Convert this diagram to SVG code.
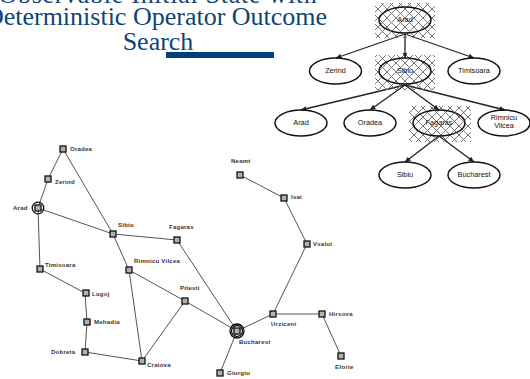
<svg xmlns="http://www.w3.org/2000/svg" width="530" height="379" viewBox="0 0 530 379">
<style>
.title{font:26px "Liberation Serif",serif;fill:#0f4477;text-anchor:middle}
.m{font:bold 6px "Liberation Sans",Arial,sans-serif;fill:#333;letter-spacing:.25px}
.t{font:7.300px "Liberation Sans",Arial,sans-serif;fill:#111;text-anchor:middle}
.ro{fill:none;stroke:#555;stroke-width:1}
.city{fill:#b0b0b0;stroke:#111;stroke-width:1.300}
.ring{fill:none;stroke:#111;stroke-width:1.300}
.e{fill:none;stroke:#111;stroke-width:1.500}
.a{stroke:#222;stroke-width:1.300;fill:none;marker-end:url(#ah)}
</style>
<defs>
<marker id="ah" markerWidth="6" markerHeight="5" refX="5.500" refY="2.500" orient="auto" markerUnits="userSpaceOnUse"><path d="M0 0L6 2.500L0 5z" fill="#222"/></marker>
<pattern id="h" width="9" height="9" patternUnits="userSpaceOnUse"><path d="M0 0L9 9M9 0L0 9" stroke="#666" stroke-width=".9"/></pattern>
</defs>
<g id="title">
<text class="title" x="158" y="2.500" style="letter-spacing:.72px">Observable Initial State with</text>
<text class="title" x="156" y="25">Deterministic Operator Outcome</text>
<text class="title" x="158" y="50">Search</text>
<rect x="166" y="52" width="108" height="6" fill="#004080"/>
</g>
<g id="map-roads">
<path class="ro" d="M63 149L48 179L38 208L113 234L177 240L237 331M63 149L113 234L129 270L185 301L142 361L129 270M38 208L40 269L85 293L87 322L85 352L142 361M185 301L237 331L273 314L322 314L341 356M273 314L307 244L284 198L240 175M237 331L220 373"/>
</g>
<g id="tree-connectors">
<path class="a" d="M405 34L336 58"/>
<path class="a" d="M405 34L405 58"/>
<path class="a" d="M405 34L474 58"/>
<path class="a" d="M405 85L301 110"/>
<path class="a" d="M405 85L370 110"/>
<path class="a" d="M405 85L439 110"/>
<path class="a" d="M405 85L505 110"/>
<path class="a" d="M439 136L405 162"/>
<path class="a" d="M439 136L474 162"/>
</g>
<g id="tree-arad"><rect x="375" y="3" width="60" height="35" fill="url(#h)"/><ellipse class="e" cx="405" cy="20" rx="26" ry="13"/><text class="t" x="405" y="22">Arad</text></g>
<g id="tree-zerind"><ellipse class="e" cx="335.500" cy="71" rx="26" ry="13"/><text class="t" x="335.500" y="73">Zerind</text></g>
<g id="tree-sibiu"><rect x="375" y="55" width="60" height="35" fill="url(#h)"/><ellipse class="e" cx="405" cy="71" rx="26" ry="13"/><text class="t" x="405" y="73">Sibiu</text></g>
<g id="tree-timisoara"><ellipse class="e" cx="474" cy="71" rx="26" ry="13"/><text class="t" x="474" y="73">Timisoara</text></g>
<g id="tree-arad2"><ellipse class="e" cx="301" cy="123" rx="26" ry="13"/><text class="t" x="301" y="125">Arad</text></g>
<g id="tree-oradea"><ellipse class="e" cx="370" cy="123" rx="26" ry="13"/><text class="t" x="370" y="125">Oradea</text></g>
<g id="tree-fagaras"><rect x="409" y="106" width="62" height="36" fill="url(#h)"/><ellipse class="e" cx="439" cy="123" rx="26" ry="13"/><text class="t" x="439" y="125">Fagaras</text></g>
<g id="tree-rimnicu"><ellipse class="e" cx="504" cy="123" rx="26" ry="13"/><text class="t" x="504" y="120">Rimnicu</text><text class="t" x="504" y="128">Vilcea</text></g>
<g id="tree-sibiu2"><ellipse class="e" cx="405" cy="175" rx="26" ry="13"/><text class="t" x="405" y="177">Sibiu</text></g>
<g id="tree-bucharest"><ellipse class="e" cx="474" cy="175" rx="26" ry="13"/><text class="t" x="474" y="177">Bucharest</text></g>
<g id="oradea"><rect class="city" x="60" y="146" width="6" height="6"/><text class="m" x="70" y="151">Oradea</text></g>
<g id="zerind"><rect class="city" x="45" y="176" width="6" height="6"/><text class="m" x="55" y="184">Zerind</text></g>
<g id="arad"><circle class="ring" cx="38" cy="208" r="5.800"/><rect class="city" x="35" y="205" width="6" height="6"/><text class="m" x="13" y="210">Arad</text></g>
<g id="sibiu"><rect class="city" x="110" y="231" width="6" height="6"/><text class="m" x="118" y="227">Sibiu</text></g>
<g id="fagaras"><rect class="city" x="174" y="237" width="6" height="6"/><text class="m" x="169" y="229">Fagaras</text></g>
<g id="neamt"><rect class="city" x="237" y="172" width="6" height="6"/><text class="m" x="231" y="163">Neamt</text></g>
<g id="iasi"><rect class="city" x="281" y="195" width="6" height="6"/><text class="m" x="291" y="199">Isai</text></g>
<g id="vaslui"><rect class="city" x="304" y="241" width="6" height="6"/><text class="m" x="313" y="246">Vsalui</text></g>
<g id="rimnicu"><rect class="city" x="126" y="267" width="6" height="6"/><text class="m" x="134" y="263">Rimnicu Vilcea</text></g>
<g id="pitesti"><rect class="city" x="182" y="298" width="6" height="6"/><text class="m" x="180" y="290">Pitesti</text></g>
<g id="timisoara"><rect class="city" x="37" y="266" width="6" height="6"/><text class="m" x="45" y="267">Timisoara</text></g>
<g id="lugoj"><rect class="city" x="83" y="290" width="6" height="6"/><text class="m" x="92" y="296">Lugoj</text></g>
<g id="mehadia"><rect class="city" x="84" y="319" width="6" height="6"/><text class="m" x="94" y="324">Mehadia</text></g>
<g id="dobreta"><rect class="city" x="82" y="349" width="6" height="6"/><text class="m" x="51" y="354">Dobreta</text></g>
<g id="craiova"><rect class="city" x="139" y="358" width="6" height="6"/><text class="m" x="147" y="367">Craiova</text></g>
<g id="bucharest"><circle class="ring" cx="237" cy="331" r="7"/><circle class="ring" cx="237" cy="331" r="5.500"/><rect class="city" x="234" y="328" width="6" height="6"/><text class="m" x="239" y="344">Bucharest</text></g>
<g id="urziceni"><rect class="city" x="270" y="311" width="6" height="6"/><text class="m" x="271" y="326">Urziceni</text></g>
<g id="hirsova"><rect class="city" x="319" y="311" width="6" height="6"/><text class="m" x="329" y="316">Hirsova</text></g>
<g id="eforie"><rect class="city" x="338" y="353" width="6" height="6"/><text class="m" x="335" y="369">Eforie</text></g>
<g id="giurgiu"><rect class="city" x="217" y="370" width="6" height="6"/><text class="m" x="227" y="375">Giurgiu</text></g>
</svg>
